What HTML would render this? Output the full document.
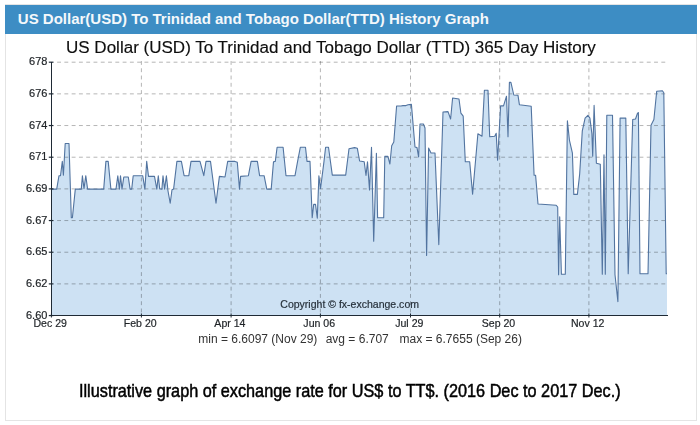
<!DOCTYPE html>
<html><head><meta charset="utf-8">
<style>
html,body{margin:0;padding:0;background:#fff;width:700px;height:425px;overflow:hidden;}
body{position:relative;font-family:"Liberation Sans",sans-serif;}
#panel{position:absolute;left:5px;top:4px;width:690px;height:414.6px;border:1px solid #e4e4e4;box-sizing:content-box;}
#hdr{position:absolute;left:5px;top:5px;width:692px;height:28.8px;background:#3d8dc4;}
#hdrtxt{position:absolute;left:17.8px;top:8.6px;font-weight:bold;font-size:15px;color:#f4f8fb;white-space:nowrap;line-height:20px;}
svg{position:absolute;left:0;top:0;will-change:transform;}
#cap{position:absolute;left:79.3px;top:381.1px;font-size:18.4px;color:#000;-webkit-text-stroke:0.5px #000;white-space:nowrap;transform-origin:0 0;transform:scaleX(0.8835);line-height:20px;}
</style></head><body>
<div id="panel"></div>
<div id="hdr"></div>
<div id="hdrtxt">US Dollar(USD) To Trinidad and Tobago Dollar(TTD) History Graph</div>
<svg width="700" height="425" viewBox="0 0 700 425">
<text x="66" y="53.1" font-size="17.03" fill="#0e0e0e" stroke="#0e0e0e" stroke-width="0.15" font-family="Liberation Sans">US Dollar (USD) To Trinidad and Tobago Dollar (TTD) 365 Day History</text>
<path d="M52,315 L52,189.1 L56.7,189.1 L59,175.7 L60.5,175.7 L62.3,161.4 L63.4,175.3 L65.2,143.5 L69,143.5 L71.3,217.8 L72.4,217.8 L75.3,189.1 L81.3,189.1 L82.4,175.7 L84,188.7 L85.8,175.7 L87.6,189.1 L103.7,189.1 L105.9,161.4 L108.2,161.4 L110.9,189.1 L116,189.1 L117.8,175.7 L119.4,189.1 L120.5,175.7 L122,189.1 L123.8,177 L128.3,177 L130.1,189.1 L131.7,189.1 L133.2,175.7 L142.7,175.7 L144.9,189.1 L146.7,161.4 L148.5,176.4 L154.5,176.4 L156.8,189.1 L158.3,175.7 L159.7,188.7 L161.9,189.1 L163,175.7 L164.6,189.1 L166.4,175.7 L168,191 L170.2,203.2 L172,189.8 L173.6,189.1 L176.9,161.4 L181.4,161.4 L184.1,175.7 L188.8,175.7 L191,161.4 L200,161.4 L203.8,175.7 L206,161.4 L210.5,161.4 L216,203.2 L219.4,176.4 L225,177 L227.7,161.4 L235,161.4 L237.3,162.3 L239.5,189.1 L240.6,176.4 L248.4,175.7 L251.1,161.4 L257.4,161.4 L259.6,175.7 L264.1,175.7 L266.8,189.1 L271.2,189.1 L273.5,161.8 L275.3,161.4 L277.1,147.3 L283.1,147.3 L286,175.7 L295,175.7 L297.6,161.4 L300.3,147.3 L305.5,147.3 L307,161.4 L310,161.4 L312.2,217.8 L313.7,204.4 L315.5,204.4 L317.3,218.2 L318.9,175.7 L320.5,188.7 L324,161.4 L325.6,147.3 L328.5,147.3 L332.3,175.1 L345.7,175.1 L349,148.7 L354.6,147.6 L357.3,148.2 L359.6,161 L364.2,161.8 L366,175.5 L367.5,161.8 L369.5,190 L371.5,147.2 L373.7,241.2 L376.4,153.3 L377.6,217.8 L383.7,217.8 L384.8,156.4 L387.9,156.4 L389.9,164 L391.7,145.7 L393.8,142 L396.6,106 L401,106 L403,105.6 L406,105.6 L408,104.8 L411.4,104.4 L415,147 L417,147.6 L418.6,157 L420,124 L423.4,124 L425,128 L426.6,255.4 L428.6,148 L431,153 L435,153 L438.8,244.6 L443,112 L448,111.6 L450.6,119 L452.6,98 L459,99 L460.9,113.2 L463.2,116.2 L465.3,161.8 L469.7,161.8 L472.6,194.1 L477.9,133.8 L482,136.2 L484.4,90.3 L488,90.3 L489.7,136.8 L494.7,136.2 L496.2,133.2 L497.6,160.3 L500.6,105.9 L503.5,105.9 L506.5,96.2 L508,136.8 L509.4,82.4 L510.9,82.4 L513.8,95 L518,95.3 L519.4,104.7 L531.2,106.2 L534.1,175.3 L535.6,175.3 L538,204 L556.2,205.3 L557.7,207 L558.6,274.7 L559.7,216.8 L561.4,274.2 L565.3,274.2 L567.4,120.9 L569.4,140 L572.4,153.2 L573.8,194.4 L577.4,194.4 L579.7,173.8 L582.3,130.8 L585.1,118.1 L587.9,115.3 L589.9,118.1 L591.9,133.7 L592.7,156.3 L594.1,105.4 L596.4,163.3 L600.3,164.2 L602.3,274.2 L604,154.9 L605.3,274.2 L606.8,115.3 L612.5,115.3 L615,274.7 L617.9,301.6 L620.1,118.1 L625.8,118.1 L628.2,273.8 L632.7,119.5 L635.5,119 L637.5,113.3 L638.4,112.5 L640,273.8 L648,273.8 L651,125.2 L653.9,119.5 L656.7,91.3 L662.4,90.7 L663.8,92.7 L666.2,273.8 L667,273.8 L667,315 Z" fill="#cde1f3" stroke="none"/>
<g stroke="#000" stroke-opacity="0.29" stroke-width="1" stroke-dasharray="3.9 3.38" fill="none">
<line x1="57.1" y1="62.20" x2="668" y2="62.20"/><line x1="57.1" y1="93.87" x2="668" y2="93.87"/><line x1="57.1" y1="125.54" x2="668" y2="125.54"/><line x1="57.1" y1="157.21" x2="668" y2="157.21"/><line x1="57.1" y1="188.88" x2="668" y2="188.88"/><line x1="57.1" y1="220.55" x2="668" y2="220.55"/><line x1="57.1" y1="252.22" x2="668" y2="252.22"/><line x1="57.1" y1="283.89" x2="668" y2="283.89"/><line x1="141.4" y1="61" x2="141.4" y2="315"/><line x1="231.1" y1="61" x2="231.1" y2="315"/><line x1="320.4" y1="61" x2="320.4" y2="315"/><line x1="410.5" y1="61" x2="410.5" y2="315"/><line x1="499.7" y1="61" x2="499.7" y2="315"/><line x1="588.9" y1="61" x2="588.9" y2="315"/>
</g>
<text x="280.3" y="308.3" font-size="11" fill="#27313b" stroke="#27313b" stroke-width="0.2" font-family="Liberation Sans" textLength="138.7" lengthAdjust="spacingAndGlyphs">Copyright © fx-exchange.com</text>
<polyline points="52,189.1 56.7,189.1 59,175.7 60.5,175.7 62.3,161.4 63.4,175.3 65.2,143.5 69,143.5 71.3,217.8 72.4,217.8 75.3,189.1 81.3,189.1 82.4,175.7 84,188.7 85.8,175.7 87.6,189.1 103.7,189.1 105.9,161.4 108.2,161.4 110.9,189.1 116,189.1 117.8,175.7 119.4,189.1 120.5,175.7 122,189.1 123.8,177 128.3,177 130.1,189.1 131.7,189.1 133.2,175.7 142.7,175.7 144.9,189.1 146.7,161.4 148.5,176.4 154.5,176.4 156.8,189.1 158.3,175.7 159.7,188.7 161.9,189.1 163,175.7 164.6,189.1 166.4,175.7 168,191 170.2,203.2 172,189.8 173.6,189.1 176.9,161.4 181.4,161.4 184.1,175.7 188.8,175.7 191,161.4 200,161.4 203.8,175.7 206,161.4 210.5,161.4 216,203.2 219.4,176.4 225,177 227.7,161.4 235,161.4 237.3,162.3 239.5,189.1 240.6,176.4 248.4,175.7 251.1,161.4 257.4,161.4 259.6,175.7 264.1,175.7 266.8,189.1 271.2,189.1 273.5,161.8 275.3,161.4 277.1,147.3 283.1,147.3 286,175.7 295,175.7 297.6,161.4 300.3,147.3 305.5,147.3 307,161.4 310,161.4 312.2,217.8 313.7,204.4 315.5,204.4 317.3,218.2 318.9,175.7 320.5,188.7 324,161.4 325.6,147.3 328.5,147.3 332.3,175.1 345.7,175.1 349,148.7 354.6,147.6 357.3,148.2 359.6,161 364.2,161.8 366,175.5 367.5,161.8 369.5,190 371.5,147.2 373.7,241.2 376.4,153.3 377.6,217.8 383.7,217.8 384.8,156.4 387.9,156.4 389.9,164 391.7,145.7 393.8,142 396.6,106 401,106 403,105.6 406,105.6 408,104.8 411.4,104.4 415,147 417,147.6 418.6,157 420,124 423.4,124 425,128 426.6,255.4 428.6,148 431,153 435,153 438.8,244.6 443,112 448,111.6 450.6,119 452.6,98 459,99 460.9,113.2 463.2,116.2 465.3,161.8 469.7,161.8 472.6,194.1 477.9,133.8 482,136.2 484.4,90.3 488,90.3 489.7,136.8 494.7,136.2 496.2,133.2 497.6,160.3 500.6,105.9 503.5,105.9 506.5,96.2 508,136.8 509.4,82.4 510.9,82.4 513.8,95 518,95.3 519.4,104.7 531.2,106.2 534.1,175.3 535.6,175.3 538,204 556.2,205.3 557.7,207 558.6,274.7 559.7,216.8 561.4,274.2 565.3,274.2 567.4,120.9 569.4,140 572.4,153.2 573.8,194.4 577.4,194.4 579.7,173.8 582.3,130.8 585.1,118.1 587.9,115.3 589.9,118.1 591.9,133.7 592.7,156.3 594.1,105.4 596.4,163.3 600.3,164.2 602.3,274.2 604,154.9 605.3,274.2 606.8,115.3 612.5,115.3 615,274.7 617.9,301.6 620.1,118.1 625.8,118.1 628.2,273.8 632.7,119.5 635.5,119 637.5,113.3 638.4,112.5 640,273.8 648,273.8 651,125.2 653.9,119.5 656.7,91.3 662.4,90.7 663.8,92.7 666.2,273.8 667,273.8" fill="none" stroke="#5274a0" stroke-width="1.1" stroke-linejoin="round"/>
<g stroke="#1f2a35" stroke-width="1">
<line x1="51.5" y1="62" x2="51.5" y2="316"/>
<line x1="51" y1="315.5" x2="668" y2="315.5"/>
<line x1="48.8" y1="62.20" x2="53.5" y2="62.20" stroke-width="1.2"/><line x1="48.8" y1="93.87" x2="53.5" y2="93.87" stroke-width="1.2"/><line x1="48.8" y1="125.54" x2="53.5" y2="125.54" stroke-width="1.2"/><line x1="48.8" y1="157.21" x2="53.5" y2="157.21" stroke-width="1.2"/><line x1="48.8" y1="188.88" x2="53.5" y2="188.88" stroke-width="1.2"/><line x1="48.8" y1="220.55" x2="53.5" y2="220.55" stroke-width="1.2"/><line x1="48.8" y1="252.22" x2="53.5" y2="252.22" stroke-width="1.2"/><line x1="48.8" y1="283.89" x2="53.5" y2="283.89" stroke-width="1.2"/><line x1="48.8" y1="315.56" x2="53.5" y2="315.56" stroke-width="1.2"/><line x1="51.4" y1="313.5" x2="51.4" y2="317.5"/><line x1="141.4" y1="313.5" x2="141.4" y2="317.5"/><line x1="231.1" y1="313.5" x2="231.1" y2="317.5"/><line x1="320.4" y1="313.5" x2="320.4" y2="317.5"/><line x1="410.5" y1="313.5" x2="410.5" y2="317.5"/><line x1="499.7" y1="313.5" x2="499.7" y2="317.5"/><line x1="588.9" y1="313.5" x2="588.9" y2="317.5"/>
</g>
<g font-family="Liberation Sans" font-size="11" fill="#1e2226" stroke="#1e2226" stroke-width="0.2">
<text x="47.4" y="65.30" text-anchor="end">678</text><text x="47.4" y="96.97" text-anchor="end">676</text><text x="47.4" y="128.64" text-anchor="end">674</text><text x="47.4" y="160.31" text-anchor="end">671</text><text x="47.4" y="191.98" text-anchor="end">6.69</text><text x="47.4" y="223.65" text-anchor="end">6.67</text><text x="47.4" y="255.32" text-anchor="end">6.65</text><text x="47.4" y="286.99" text-anchor="end">6.62</text><text x="47.4" y="318.66" text-anchor="end">6.60</text><text x="50.2" y="326.8" text-anchor="middle" transform="translate(50.2 0) scale(0.96 1) translate(-50.2 0)">Dec 29</text><text x="140.2" y="326.8" text-anchor="middle" transform="translate(140.2 0) scale(0.96 1) translate(-140.2 0)">Feb 20</text><text x="229.9" y="326.8" text-anchor="middle" transform="translate(229.9 0) scale(0.96 1) translate(-229.9 0)">Apr 14</text><text x="319.2" y="326.8" text-anchor="middle" transform="translate(319.2 0) scale(0.96 1) translate(-319.2 0)">Jun 06</text><text x="409.3" y="326.8" text-anchor="middle" transform="translate(409.3 0) scale(0.96 1) translate(-409.3 0)">Jul 29</text><text x="498.5" y="326.8" text-anchor="middle" transform="translate(498.5 0) scale(0.96 1) translate(-498.5 0)">Sep 20</text><text x="587.7" y="326.8" text-anchor="middle" transform="translate(587.7 0) scale(0.96 1) translate(-587.7 0)">Nov 12</text>
</g>
<g font-family="Liberation Sans" font-size="12" fill="#333">
<text x="198.3" y="343.1">min = 6.6097 (Nov 29)</text>
<text x="325.7" y="343.1">avg = 6.707</text>
<text x="399.5" y="343.1">max = 6.7655 (Sep 26)</text>
</g>
</svg>
<div id="cap">Illustrative graph of exchange rate for US$ to TT$. (2016 Dec to 2017 Dec.)</div>
</body></html>
